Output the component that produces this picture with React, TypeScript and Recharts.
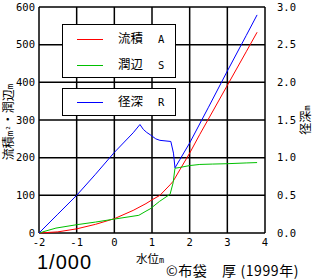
import React from 'react';
import { ComposedChart, Line, XAxis, YAxis, CartesianGrid } from 'recharts';

// 径深 R (right axis, m)
const rX = [-2, -1.5, -1, -0.5, 0, 0.5, 0.68, 0.77, 0.86, 0.95, 1.1, 1.21, 1.5, 1.57, 1.61, 1.74, 2.0, 2.5, 3.0, 3.5, 3.79];
const rY = [0, 0.25, 0.5, 0.78, 1.07, 1.33, 1.44, 1.375, 1.335, 1.305, 1.25, 1.23, 1.215, 1.06, 0.865, 0.975, 1.195, 1.67, 2.15, 2.62, 2.895];
// 流積 A (left axis, m²)
const aX = [-2, -1.5, -1, -0.5, 0, 0.5, 0.84, 1.0, 1.21, 1.48, 1.56, 1.74, 2.0, 2.27, 3.0, 3.5, 3.79];
const aY = [0, 3, 11, 23, 38, 60, 78, 88, 100, 128, 137, 168, 212, 262, 392, 481, 533];
// 潤辺 S (left axis, m)
const sX = [-2, -1.9, -1.55, -1, -0.5, 0, 0.65, 0.84, 0.95, 1.2, 1.48, 1.56, 1.61, 1.74, 2.0, 2.27, 2.6, 3.0, 3.5, 3.79];
const sY = [0, 3, 13, 22, 29, 37, 47, 58, 64, 84, 103, 133, 172, 174, 179, 182, 183, 184, 186, 187];

const xTicks = [-2, -1, 0, 1, 2, 3, 4];
const leftTicks = [0, 100, 200, 300, 400, 500, 600];
const rightTicks = [0, 0.5, 1, 1.5, 2, 2.5, 3];

const toPts = (xs: number[], ys: number[]) => xs.map((x, i) => ({ x, y: ys[i] }));
const rData = toPts(rX, rY);
const aData = toPts(aX, aY);
const sData = toPts(sX, sY);

const RED = '#ff0000';
const GREEN = '#00c000';
const BLUE = '#0000ff';

const legendGroups = [
  [
    { name: '流積', sym: 'A', color: RED },
    { name: '潤辺', sym: 'S', color: GREEN },
  ],
  [{ name: '径深', sym: 'R', color: BLUE }],
];

const mono = '"DejaVu Sans Mono", monospace';
const cjk = '"Noto Sans CJK JP", sans-serif';
const tickStyle = { fontFamily: mono, fontSize: 10.5, fill: '#000' };

export default function App() {
  return (
    <div style={{ position: 'relative', width: 312, height: 280, background: '#fff' }}>
      <style>{`body{margin:0;background:#fff}`}</style>
      <ComposedChart width={312} height={280} margin={{ top: 7, right: 0, bottom: 0, left: 0 }}>
        <CartesianGrid yAxisId="left" stroke="#000" strokeWidth={1.5} />
        <XAxis
          type="number"
          dataKey="x"
          domain={[-2, 4]}
          ticks={xTicks}
          height={47}
          axisLine={false}
          tickLine={false}
          tickSize={4}
          tickMargin={2}
          tick={tickStyle}
          allowDataOverflow
        />
        <YAxis
          yAxisId="left"
          domain={[0, 600]}
          ticks={leftTicks}
          width={39}
          axisLine={false}
          tickLine={false}
          tickSize={3}
          tickMargin={1}
          tick={tickStyle}
        />
        <YAxis
          yAxisId="right"
          orientation="right"
          domain={[0, 3]}
          ticks={rightTicks}
          width={47}
          axisLine={false}
          tickLine={false}
          tickSize={6}
          tickMargin={6}
          tick={tickStyle}
          tickFormatter={(v: number) => v.toFixed(1)}
        />
        <Line yAxisId="left" data={aData} dataKey="y" type="linear" stroke={RED} strokeWidth={1} dot={false} isAnimationActive={false} />
        <Line yAxisId="left" data={sData} dataKey="y" type="linear" stroke={GREEN} strokeWidth={1} dot={false} isAnimationActive={false} />
        <Line yAxisId="right" data={rData} dataKey="y" type="linear" stroke={BLUE} strokeWidth={1} dot={false} isAnimationActive={false} />
      </ComposedChart>

      {/* legend boxes */}
      {legendGroups.map((g, gi) => (
        <div
          key={gi}
          style={{
            position: 'absolute',
            left: 62,
            top: gi === 0 ? 24 : 88,
            width: 114,
            height: gi === 0 ? 54 : 28,
            border: '1px solid #000',
            background: '#fff',
            boxSizing: 'border-box',
          }}
        >
          {g.map((e, i) => (
            <div key={i} style={{ position: 'absolute', left: 0, top: (gi === 0 ? 6 : 5) + i * 26, height: 16, width: 111 }}>
              <div style={{ position: 'absolute', left: 14, top: 8, width: 26, height: 1, background: e.color }} />
              <div style={{ position: 'absolute', left: 55, top: -1, fontFamily: cjk, fontSize: 12.5, lineHeight: '16px', color: '#000' }}>{e.name}</div>
              <div style={{ position: 'absolute', left: 95, top: 0, fontFamily: mono, fontSize: 10.5, lineHeight: '16px', color: '#000' }}>{e.sym}</div>
            </div>
          ))}
        </div>
      ))}

      <svg width={312} height={280} style={{ position: 'absolute', left: 0, top: 0, pointerEvents: 'none' }}>
        <text x={0} y={0} transform="translate(13,122) rotate(-90)" textAnchor="middle" fontFamily={cjk} fontSize={12} fill="#000">
          流積<tspan fontFamily={mono} fontSize={9}>m²</tspan>・潤辺<tspan fontFamily={mono} fontSize={9}>m</tspan>
        </text>
        <text x={0} y={0} transform="translate(310,120) rotate(-90)" textAnchor="middle" fontFamily={cjk} fontSize={12} fill="#000">
          径深<tspan fontFamily={mono} fontSize={9}>m</tspan>
        </text>
        <text x={136} y={263} fontFamily={cjk} fontSize={11.5} fill="#000">
          水位<tspan fontFamily={mono} fontSize={8.5}>m</tspan>
        </text>
        <text x={37} y={269} fontFamily='"Liberation Sans", Arial, sans-serif' fontSize={20} letterSpacing={1} fill="#000">1/000</text>
        <text x={166} y={276} fontFamily={cjk} fontSize={14} letterSpacing={0.6} fill="#000">©布袋　厚 (1999年)</text>
      </svg>
    </div>
  );
}
